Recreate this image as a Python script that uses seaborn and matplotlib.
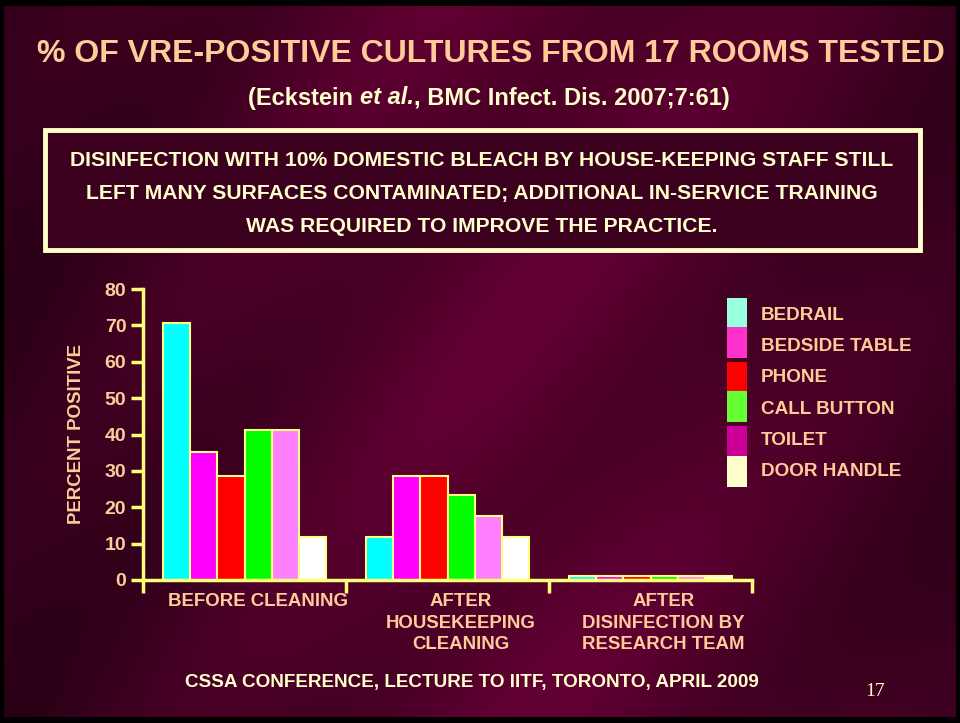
import seaborn as sns
import matplotlib.pyplot as plt
import matplotlib.patches as mpatches
import pandas as pd
import numpy as np

# data (percent of 17 rooms positive)
groups = ["BEFORE CLEANING", "AFTER\nHOUSEKEEPING\nCLEANING", "AFTER\nDISINFECTION BY\nRESEARCH TEAM"]
surfaces = ["BEDRAIL", "BEDSIDE TABLE", "PHONE", "CALL BUTTON", "TOILET", "DOOR HANDLE"]
before = [70.6, 35.3, 28.6, 41.2, 41.2, 11.8]
after_hk = [11.8, 28.6, 28.6, 23.5, 17.6, 11.8]
after_rt = [1.0, 1.0, 1.0, 1.0, 1.0, 1.0]

bar_colors = ["#00FFFF", "#FF00FF", "#FF0000", "#00FF00", "#FF80FF", "#FFFFFF"]
legend_colors = ["#99FFDD", "#FF33CC", "#FF0000", "#66FF33", "#CC0099", "#FFFFCC"]

df = pd.DataFrame({
    "group": np.repeat(groups, len(surfaces)),
    "surface": surfaces * len(groups),
    "value": before + after_hk + after_rt,
})

sns.set_style("white")
plt.rcParams["font.family"] = ["Liberation Sans", "DejaVu Sans"]

PEACH = "#FFCC99"
CREAM = "#FFFFCC"
YELLOW = "#FFFF77"

fig = plt.figure(figsize=(9.6, 7.23), dpi=100)

# ---- slide background ----
bg = fig.add_axes([0, 0, 1, 1], zorder=-10)
h, w = 723, 960
yy, xx = np.mgrid[0:h, 0:w]
xn = xx / w
yn = yy / h
prof = 0.45 + 0.55 * np.exp(-((xn - 0.55) / 0.42) ** 2)
bands = 0.5 + 0.5 * np.sin((xn * 5.0 + yn * 3.5) * np.pi + 0.8 * np.sin(xn * 3))
shade = prof * (0.78 + 0.22 * bands)
base = np.array([0x62, 0x00, 0x33]) / 255.0
img = shade[..., None] * base[None, None, :]
# black frame
img[:6, :] = 0
img[717:, :] = 0
img[:, :4] = 0
img[:, 956:] = 0
bg.imshow(img, aspect="auto", extent=[0, 1, 0, 1], origin="upper")
bg.set_axis_off()

# ---- titles ----
fig.text(491 / 960, 1 - 54 / 723, "% OF VRE-POSITIVE CULTURES FROM 17 ROOMS TESTED",
         ha="center", va="center", color=PEACH, fontsize=23, fontweight="bold")

# subtitle built from pieces so "et al." is bold italic
renderer = fig.canvas.get_renderer()
pieces = [("(Eckstein ", "normal"), ("et al.", "italic"), (", BMC Infect. Dis. 2007;7:61)", "normal")]
texts = []
total = 0
for s, style in pieces:
    t = fig.text(0, 1 - 98 / 723, s, ha="left", va="center", color=CREAM,
                 fontsize=17, fontweight="bold", fontstyle=style)
    bb = t.get_window_extent(renderer)
    texts.append((t, bb.width))
    total += bb.width
x0 = 489 - total / 2
for t, wd in texts:
    t.set_x(x0 / 960)
    x0 += wd

# ---- boxed message ----
box = mpatches.Rectangle((45 / 960, 1 - 250 / 723), 875 / 960, 120 / 723,
                         transform=fig.transFigure, facecolor="#3A001E",
                         edgecolor=CREAM, linewidth=3.5, zorder=1)
fig.add_artist(box)
box_lines = ["DISINFECTION WITH 10% DOMESTIC BLEACH BY HOUSE-KEEPING STAFF STILL",
             "LEFT MANY SURFACES CONTAMINATED; ADDITIONAL IN-SERVICE TRAINING",
             "WAS REQUIRED TO IMPROVE THE PRACTICE."]
for i, line in enumerate(box_lines):
    fig.text(482 / 960, 1 - (160 + 33 * i) / 723, line, ha="center", va="center",
             color=CREAM, fontsize=15.2, fontweight="bold", zorder=2)

# ---- bar chart ----
ax = fig.add_axes([143 / 960, 1 - 580 / 723, 609 / 960, 291 / 723])
ax.patch.set_alpha(0)
sns.barplot(data=df, x="group", y="value", hue="surface", hue_order=surfaces,
            palette=bar_colors, saturation=1, width=0.8, edgecolor="#FFFF88",
            linewidth=1.5, legend=False, ax=ax)
ax.set_xlim(-0.5, 2.5)
ax.set_ylim(0, 80)
ax.set_yticks(range(0, 81, 10))
ax.set_xticks([-0.5, 0.5, 1.5, 2.5])
ax.set_xticklabels([])
ax.tick_params(axis="y", left=True, colors=YELLOW, length=9, width=2.5, direction="out",
               labelcolor=PEACH, labelsize=14, pad=3)
ax.tick_params(axis="x", bottom=True, colors=YELLOW, length=9, width=2.5, direction="out")
for lbl in ax.get_yticklabels():
    lbl.set_fontweight("bold")
for s in ["top", "right"]:
    ax.spines[s].set_visible(False)
for s in ["left", "bottom"]:
    ax.spines[s].set_color(YELLOW)
    ax.spines[s].set_linewidth(2.5)
ax.set_xlabel("")
ax.set_ylabel("PERCENT POSITIVE", color=PEACH, fontsize=13.4, fontweight="bold", labelpad=14)
for i, g in enumerate(groups):
    ax.text(i + 0.065, -3.6, g, ha="center", va="top", color=PEACH, fontsize=13.4,
            fontweight="bold", linespacing=1.35)

# ---- legend ----
tops = [298, 327, 362, 391, 426, 456]
for i, (name, col) in enumerate(zip(surfaces, legend_colors)):
    t = tops[i]
    rect = mpatches.Rectangle((727 / 960, 1 - (t + 31) / 723), 20 / 960, 31 / 723,
                              transform=fig.transFigure, facecolor=col,
                              edgecolor="none")
    fig.add_artist(rect)
    fig.text(761 / 960, 1 - (315 + 31.4 * i) / 723, name, ha="left", va="center",
             color=PEACH, fontsize=13.6, fontweight="bold")

# ---- footer ----
fig.text(472 / 960, 1 - 683 / 723, "CSSA CONFERENCE, LECTURE TO IITF, TORONTO, APRIL 2009",
         ha="center", va="center", color=CREAM, fontsize=13.6, fontweight="bold")
fig.text(875 / 960, 1 - 692 / 723, "17", ha="center", va="center", color=CREAM,
         fontsize=14, family="Liberation Serif")

fig.savefig("out.png", dpi=100)
plt.close(fig)
